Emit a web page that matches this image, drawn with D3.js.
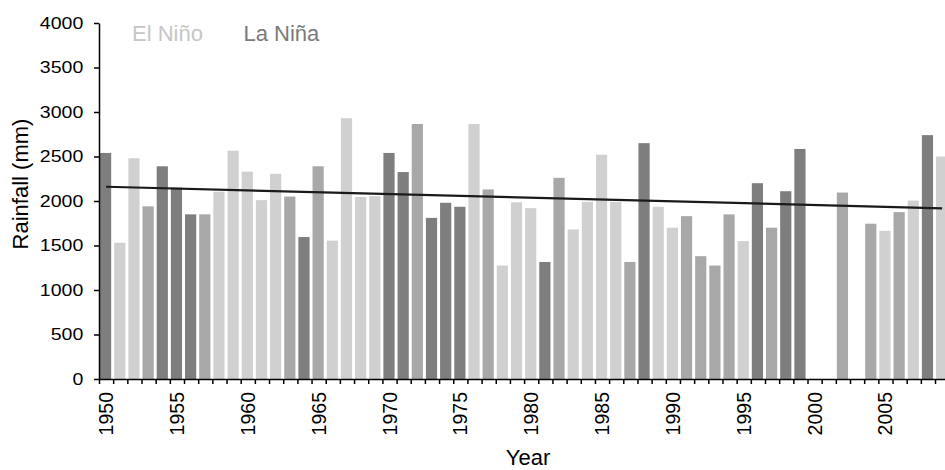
<!DOCTYPE html>
<html>
<head>
<meta charset="utf-8">
<script src="https://cdn.jsdelivr.net/npm/d3@7"></script>
<style>
    body { margin: 0; background: #fff; }
    svg { display: block; font-family: "Liberation Sans", Arial, Helvetica, sans-serif; }
    .axis path, .axis line { stroke: #000; stroke-width: 1.5; }
</style>
</head>
<body>
<div id="barplot"></div>
<script>
// Define variables
// ============================================================================
const years = d3.range(1950, 2010);

// annual rainfall (mm); null where the year has no bar
const rainfall = [
    2540, 1530, 2480, 1940, 2390, 2150, 1850, 1850, 2105, 2565,
    2330, 2010, 2305, 2050, 1595, 2390, 1555, 2930, 2045, 2055,
    2540, 2325, 2865, 1810, 1980, 1935, 2865, 2130, 1275, 1985,
    1920, 1315, 2260, 1680, 1990, 2520, 1990, 1315, 2650, 1935,
    1700, 1830, 1380, 1275, 1850, 1550, 2200, 1700, 2110, 2585,
    null, null, 2095, null, 1745, 1665, 1875, 2005, 2740, 2500
];

// E = El Niño, L = La Niña, N = neutral
const phase = [
    "L", "E", "E", "N", "L", "L", "L", "N", "E", "E",
    "E", "E", "E", "N", "L", "N", "E", "E", "E", "E",
    "L", "L", "N", "L", "L", "L", "E", "N", "E", "E",
    "E", "L", "N", "E", "E", "E", "E", "N", "L", "E",
    "E", "N", "N", "N", "N", "E", "L", "N", "L", "L",
    "", "", "N", "", "N", "E", "N", "E", "L", "E"
];

const trendYears = [1950, 2009],
    trendValues = [2160, 1918];

const yTicks = [0, 500, 1000, 1500, 2000, 2500, 3000, 3500, 4000],
    xLabels = [1950, 1955, 1960, 1965, 1970, 1975, 1980, 1985, 1990, 1995, 2000, 2005];

const legendLabels = ["El Niño", "La Niña"],
    legendKeys = ["E", "L"];

const colors = {E: "#d0d0d0", N: "#a8a8a8", L: "#7e7e7e"},
    legendColors = {E: "#c6c6c6", L: "#7a7a7a"};

const totalW = 945, totalH = 470,
    margin = {top: 23, left: 99, bottom: 91},
    step = 14.17,
    height = totalH - margin.top - margin.bottom;

// Plot
// ============================================================================
const data = years.map((yr, i) => ({year: yr, value: rainfall[i], phase: phase[i]}));

let svg = d3.select("#barplot")
    .append("svg")
        .attr("width", totalW)
        .attr("height", totalH)
    .append("g")
        .attr("transform", "translate(" + margin.left + "," + margin.top + ")");

// Create Scales
let xScale = d3.scaleBand()
    .domain(years)
    .range([0, step * years.length])
    .padding(0);

let xEdge = d3.scaleLinear()
    .domain([1950, 2010])
    .range([0, step * years.length]);

let yScale = d3.scaleLinear()
    .domain([0, 4000])
    .range([height, 0]);

// Bars
svg.selectAll(".bar")
    .data(data.filter(d => d.value !== null))
    .enter()
    .append("rect")
        .attr("class", "bar")
        .attr("x", d => xScale(d.year) + 1)
        .attr("width", xScale.bandwidth() * 0.79)
        .attr("y", d => yScale(d.value))
        .attr("height", d => height - yScale(d.value))
        .attr("fill", d => colors[d.phase]);

// Trend line
svg.append("path")
    .datum(trendYears.map((yr, i) => ({year: yr, value: trendValues[i]})))
        .attr("fill", "none")
        .attr("stroke", "#1a1a1a")
        .attr("stroke-width", 2.2)
        .attr("d", d3.line()
            .x(d => xScale(d.year) + xScale.bandwidth() / 2)
            .y(d => yScale(d.value)));

// Y axis
let yAxis = svg.append("g")
    .attr("class", "axis")
    .call(d3.axisLeft(yScale)
        .tickValues(yTicks)
        .tickSize(5)
        .tickSizeOuter(0)
        .tickFormat(d3.format("d")));

yAxis.selectAll("text")
    .attr("x", -13.7)
    .attr("dy", "0.3em")
    .attr("transform", "scale(1.15,1)")
    .style("font-size", "17px")
    .style("font-family", "'Liberation Sans', Arial, sans-serif")
    .attr("fill", "#000");

// X axis: ticks at the year boundaries
svg.append("g")
    .attr("class", "axis")
    .attr("transform", "translate(0," + height + ")")
    .call(d3.axisBottom(xEdge)
        .tickValues(d3.range(1950, 2011))
        .tickSize(5)
        .tickSizeOuter(0)
        .tickFormat(""));

// X axis: labels at the bar centres
let xAxis = svg.append("g")
    .attr("transform", "translate(0," + height + ")")
    .call(d3.axisBottom(xScale)
        .tickValues(xLabels)
        .tickSize(0)
        .tickSizeOuter(0));

xAxis.select(".domain").remove();
xAxis.selectAll("text")
    .attr("transform", "rotate(-90)")
    .attr("x", -13)
    .attr("y", 0)
    .attr("dy", "0.36em")
    .style("text-anchor", "end")
    .style("font-size", "19.5px")
    .style("font-family", "'Liberation Sans', Arial, sans-serif")
    .attr("fill", "#000");

// Axis titles
svg.append("text")
    .attr("x", 528 - margin.left)
    .attr("y", 465 - margin.top)
    .attr("text-anchor", "middle")
    .style("font-size", "22px")
    .text("Year");

svg.append("text")
    .attr("transform", "translate(" + (28 - margin.left) + "," + (184 - margin.top) + ") rotate(-90)")
    .attr("text-anchor", "middle")
    .style("font-size", "22px")
    .text("Rainfall (mm)");

// Legend
const legendX = [132, 243.5];
svg.selectAll(".legend")
    .data(legendLabels)
    .enter()
    .append("text")
        .attr("class", "legend")
        .attr("x", (d, i) => legendX[i] - margin.left)
        .attr("y", 41 - margin.top)
        .style("font-size", "22px")
        .attr("fill", (d, i) => legendColors[legendKeys[i]])
        .text(d => d);
</script>
</body>
</html>
